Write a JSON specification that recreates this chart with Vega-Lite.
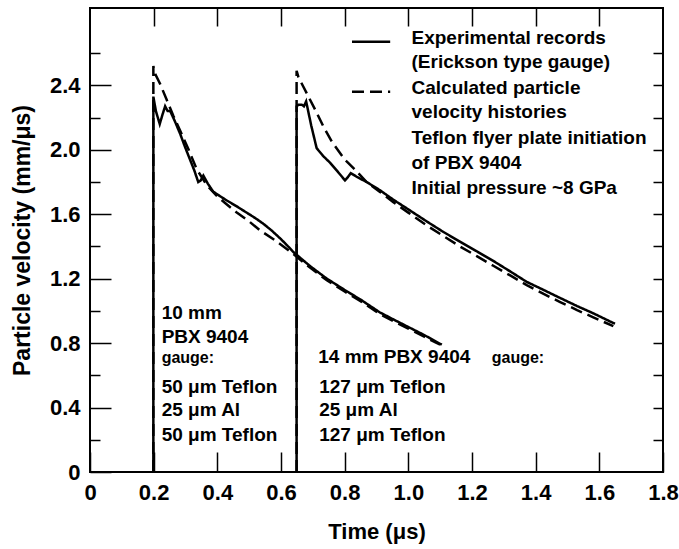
{
  "$schema": "https://vega.github.io/schema/vega-lite/v6.json",
  "width": 573,
  "height": 464,
  "autosize": "none",
  "padding": {"left": 90, "top": 8, "right": 16, "bottom": 77},
  "background": "white",
  "config": {
    "view": {"stroke": "black", "strokeWidth": 2},
    "font": "Liberation Sans",
    "axis": {
      "domain": false, "grid": false, "tickColor": "black", "tickWidth": 1.5, "tickSize": -10,
      "labelColor": "black", "labelFont": "Liberation Sans", "labelFontWeight": "bold", "labelFontSize": 22, "labelOverlap": false, "labelFlush": false,
      "titleColor": "black", "titleFont": "Liberation Sans", "titleFontWeight": "bold"
    }
  },
  "datasets": {
    "curves": [
      {"series": "exp10", "kind": "exp", "t": 0.199, "v": 0},
      {"series": "exp10", "kind": "exp", "t": 0.199, "v": 2.33},
      {"series": "exp10", "kind": "exp", "t": 0.207, "v": 2.24},
      {"series": "exp10", "kind": "exp", "t": 0.219, "v": 2.16},
      {"series": "exp10", "kind": "exp", "t": 0.228, "v": 2.22},
      {"series": "exp10", "kind": "exp", "t": 0.236, "v": 2.27},
      {"series": "exp10", "kind": "exp", "t": 0.244, "v": 2.24},
      {"series": "exp10", "kind": "exp", "t": 0.252, "v": 2.24},
      {"series": "exp10", "kind": "exp", "t": 0.266, "v": 2.18},
      {"series": "exp10", "kind": "exp", "t": 0.283, "v": 2.10},
      {"series": "exp10", "kind": "exp", "t": 0.298, "v": 2.02},
      {"series": "exp10", "kind": "exp", "t": 0.314, "v": 1.94},
      {"series": "exp10", "kind": "exp", "t": 0.328, "v": 1.87},
      {"series": "exp10", "kind": "exp", "t": 0.340, "v": 1.80},
      {"series": "exp10", "kind": "exp", "t": 0.348, "v": 1.81},
      {"series": "exp10", "kind": "exp", "t": 0.356, "v": 1.84},
      {"series": "exp10", "kind": "exp", "t": 0.370, "v": 1.79},
      {"series": "exp10", "kind": "exp", "t": 0.387, "v": 1.74},
      {"series": "exp10", "kind": "exp", "t": 0.41, "v": 1.71},
      {"series": "exp10", "kind": "exp", "t": 0.43, "v": 1.685},
      {"series": "exp10", "kind": "exp", "t": 0.46, "v": 1.65},
      {"series": "exp10", "kind": "exp", "t": 0.5, "v": 1.60},
      {"series": "exp10", "kind": "exp", "t": 0.52, "v": 1.575},
      {"series": "exp10", "kind": "exp", "t": 0.545, "v": 1.54},
      {"series": "exp10", "kind": "exp", "t": 0.57, "v": 1.50},
      {"series": "exp10", "kind": "exp", "t": 0.6, "v": 1.445},
      {"series": "exp10", "kind": "exp", "t": 0.62, "v": 1.405},
      {"series": "exp10", "kind": "exp", "t": 0.639, "v": 1.365},
      {"series": "exp10", "kind": "exp", "t": 0.69, "v": 1.28},
      {"series": "exp10", "kind": "exp", "t": 0.744, "v": 1.20},
      {"series": "exp10", "kind": "exp", "t": 0.8, "v": 1.13},
      {"series": "exp10", "kind": "exp", "t": 0.85, "v": 1.07},
      {"series": "exp10", "kind": "exp", "t": 0.911, "v": 0.99},
      {"series": "exp10", "kind": "exp", "t": 0.96, "v": 0.94},
      {"series": "exp10", "kind": "exp", "t": 1.0, "v": 0.90},
      {"series": "exp10", "kind": "exp", "t": 1.05, "v": 0.85},
      {"series": "exp10", "kind": "exp", "t": 1.105, "v": 0.79},
      {"series": "calc10", "kind": "calc", "t": 0.199, "v": 0},
      {"series": "calc10", "kind": "calc", "t": 0.199, "v": 2.52},
      {"series": "calc10", "kind": "calc", "t": 0.205, "v": 2.47},
      {"series": "calc10", "kind": "calc", "t": 0.22, "v": 2.41},
      {"series": "calc10", "kind": "calc", "t": 0.241, "v": 2.31},
      {"series": "calc10", "kind": "calc", "t": 0.262, "v": 2.21},
      {"series": "calc10", "kind": "calc", "t": 0.283, "v": 2.12},
      {"series": "calc10", "kind": "calc", "t": 0.31, "v": 2.0},
      {"series": "calc10", "kind": "calc", "t": 0.335, "v": 1.88},
      {"series": "calc10", "kind": "calc", "t": 0.367, "v": 1.78},
      {"series": "calc10", "kind": "calc", "t": 0.40, "v": 1.71},
      {"series": "calc10", "kind": "calc", "t": 0.43, "v": 1.66},
      {"series": "calc10", "kind": "calc", "t": 0.461, "v": 1.61},
      {"series": "calc10", "kind": "calc", "t": 0.5, "v": 1.555},
      {"series": "calc10", "kind": "calc", "t": 0.534, "v": 1.50},
      {"series": "calc10", "kind": "calc", "t": 0.58, "v": 1.44},
      {"series": "calc10", "kind": "calc", "t": 0.628, "v": 1.37},
      {"series": "calc10", "kind": "calc", "t": 0.69, "v": 1.27},
      {"series": "calc10", "kind": "calc", "t": 0.744, "v": 1.19},
      {"series": "calc10", "kind": "calc", "t": 0.8, "v": 1.12},
      {"series": "calc10", "kind": "calc", "t": 0.85, "v": 1.06},
      {"series": "calc10", "kind": "calc", "t": 0.911, "v": 0.98},
      {"series": "calc10", "kind": "calc", "t": 0.96, "v": 0.93},
      {"series": "calc10", "kind": "calc", "t": 1.0, "v": 0.89},
      {"series": "calc10", "kind": "calc", "t": 1.05, "v": 0.84},
      {"series": "calc10", "kind": "calc", "t": 1.1, "v": 0.79},
      {"series": "exp14", "kind": "exp", "t": 0.649, "v": 0},
      {"series": "exp14", "kind": "exp", "t": 0.649, "v": 2.27},
      {"series": "exp14", "kind": "exp", "t": 0.655, "v": 2.28},
      {"series": "exp14", "kind": "exp", "t": 0.665, "v": 2.28},
      {"series": "exp14", "kind": "exp", "t": 0.672, "v": 2.27},
      {"series": "exp14", "kind": "exp", "t": 0.679, "v": 2.30},
      {"series": "exp14", "kind": "exp", "t": 0.695, "v": 2.15},
      {"series": "exp14", "kind": "exp", "t": 0.712, "v": 2.01},
      {"series": "exp14", "kind": "exp", "t": 0.733, "v": 1.96},
      {"series": "exp14", "kind": "exp", "t": 0.754, "v": 1.92},
      {"series": "exp14", "kind": "exp", "t": 0.78, "v": 1.86},
      {"series": "exp14", "kind": "exp", "t": 0.801, "v": 1.81},
      {"series": "exp14", "kind": "exp", "t": 0.81, "v": 1.83},
      {"series": "exp14", "kind": "exp", "t": 0.819, "v": 1.855},
      {"series": "exp14", "kind": "exp", "t": 0.84, "v": 1.83},
      {"series": "exp14", "kind": "exp", "t": 0.869, "v": 1.80},
      {"series": "exp14", "kind": "exp", "t": 0.91, "v": 1.75},
      {"series": "exp14", "kind": "exp", "t": 0.953, "v": 1.69},
      {"series": "exp14", "kind": "exp", "t": 1.0, "v": 1.63},
      {"series": "exp14", "kind": "exp", "t": 1.058, "v": 1.555},
      {"series": "exp14", "kind": "exp", "t": 1.11, "v": 1.49},
      {"series": "exp14", "kind": "exp", "t": 1.162, "v": 1.43},
      {"series": "exp14", "kind": "exp", "t": 1.215, "v": 1.37},
      {"series": "exp14", "kind": "exp", "t": 1.267, "v": 1.31},
      {"series": "exp14", "kind": "exp", "t": 1.32, "v": 1.245},
      {"series": "exp14", "kind": "exp", "t": 1.372, "v": 1.18},
      {"series": "exp14", "kind": "exp", "t": 1.425, "v": 1.13},
      {"series": "exp14", "kind": "exp", "t": 1.477, "v": 1.08},
      {"series": "exp14", "kind": "exp", "t": 1.53, "v": 1.03},
      {"series": "exp14", "kind": "exp", "t": 1.581, "v": 0.985},
      {"series": "exp14", "kind": "exp", "t": 1.649, "v": 0.92},
      {"series": "calc14", "kind": "calc", "t": 0.649, "v": 0},
      {"series": "calc14", "kind": "calc", "t": 0.649, "v": 2.49},
      {"series": "calc14", "kind": "calc", "t": 0.655, "v": 2.45},
      {"series": "calc14", "kind": "calc", "t": 0.681, "v": 2.35},
      {"series": "calc14", "kind": "calc", "t": 0.707, "v": 2.25},
      {"series": "calc14", "kind": "calc", "t": 0.733, "v": 2.145},
      {"series": "calc14", "kind": "calc", "t": 0.76, "v": 2.05},
      {"series": "calc14", "kind": "calc", "t": 0.8, "v": 1.94},
      {"series": "calc14", "kind": "calc", "t": 0.833, "v": 1.876},
      {"series": "calc14", "kind": "calc", "t": 0.869, "v": 1.80},
      {"series": "calc14", "kind": "calc", "t": 0.91, "v": 1.74},
      {"series": "calc14", "kind": "calc", "t": 0.953, "v": 1.675},
      {"series": "calc14", "kind": "calc", "t": 1.0, "v": 1.61},
      {"series": "calc14", "kind": "calc", "t": 1.058, "v": 1.53},
      {"series": "calc14", "kind": "calc", "t": 1.11, "v": 1.465},
      {"series": "calc14", "kind": "calc", "t": 1.162, "v": 1.40},
      {"series": "calc14", "kind": "calc", "t": 1.215, "v": 1.34},
      {"series": "calc14", "kind": "calc", "t": 1.267, "v": 1.28},
      {"series": "calc14", "kind": "calc", "t": 1.32, "v": 1.22},
      {"series": "calc14", "kind": "calc", "t": 1.372, "v": 1.16},
      {"series": "calc14", "kind": "calc", "t": 1.425, "v": 1.105},
      {"series": "calc14", "kind": "calc", "t": 1.477, "v": 1.055},
      {"series": "calc14", "kind": "calc", "t": 1.53, "v": 1.005},
      {"series": "calc14", "kind": "calc", "t": 1.581, "v": 0.96},
      {"series": "calc14", "kind": "calc", "t": 1.644, "v": 0.905}
    ],
    "legend": [
      {"kind": "exp", "t1": 0.823, "t2": 0.943, "v": 2.67},
      {"kind": "calc", "t1": 0.823, "t2": 0.943, "v": 2.36}
    ],
    "notes": [
      {"label": "Experimental records", "t": 1.01, "v": 2.696, "role": "main"},
      {"label": "(Erickson type gauge)", "t": 1.01, "v": 2.547, "role": "main"},
      {"label": "Calculated particle", "t": 1.01, "v": 2.385, "role": "main"},
      {"label": "velocity histories", "t": 1.01, "v": 2.236, "role": "main"},
      {"label": "Teflon flyer plate initiation", "t": 1.01, "v": 2.075, "role": "main"},
      {"label": "of PBX 9404", "t": 1.01, "v": 1.919, "role": "main"},
      {"label": "Initial pressure ~8 GPa", "t": 1.01, "v": 1.764, "role": "main"},
      {"label": "10 mm", "t": 0.225, "v": 0.988, "role": "main"},
      {"label": "PBX 9404", "t": 0.225, "v": 0.84, "role": "main"},
      {"label": "gauge:", "t": 0.225, "v": 0.708, "role": "small"},
      {"label": "50 μm Teflon", "t": 0.225, "v": 0.53, "role": "main"},
      {"label": "25 μm Al", "t": 0.225, "v": 0.385, "role": "main"},
      {"label": "50 μm Teflon", "t": 0.225, "v": 0.23, "role": "main"},
      {"label": "14 mm PBX 9404", "t": 0.717, "v": 0.714, "role": "main"},
      {"label": "gauge:", "t": 1.262, "v": 0.708, "role": "small"},
      {"label": "127 μm Teflon", "t": 0.72, "v": 0.53, "role": "main"},
      {"label": "25 μm Al", "t": 0.72, "v": 0.385, "role": "main"},
      {"label": "127 μm Teflon", "t": 0.72, "v": 0.23, "role": "main"}
    ]
  },
  "layer": [
    {
      "data": {"name": "curves"},
      "mark": {"type": "line", "color": "black", "strokeWidth": 2.5, "clip": true},
      "encoding": {
        "x": {"field": "t", "type": "quantitative", "scale": {"domain": [0, 1.8], "nice": false, "zero": false},
          "axis": {"orient": "bottom", "values": [0, 0.2, 0.4, 0.6, 0.8, 1.0, 1.2, 1.4, 1.6, 1.8],
            "labelExpr": "datum.value == 0 ? '0' : format(datum.value, '.1f')", "tickSize": -20, "labelPadding": 30,
            "title": "Time (μs)", "titleFontSize": 22, "titlePadding": 18}},
        "y": {"field": "v", "type": "quantitative", "scale": {"domain": [0, 2.88], "nice": false, "zero": false},
          "axis": {"orient": "left", "values": [0, 0.2, 0.4, 0.6, 0.8, 1.0, 1.2, 1.4, 1.6, 1.8, 2.0, 2.2, 2.4, 2.6],
            "labelExpr": "round(datum.value * 10) % 4 == 0 ? (datum.value == 0 ? '0' : format(datum.value, '.1f')) : ''",
            "tickSize": {"condition": {"test": "round(datum.value * 10) % 4 == 0", "value": -21}, "value": -10},
            "labelPadding": 31, "title": "Particle velocity (mm/μs)", "titleFontSize": 23, "titlePadding": 15}},
        "detail": {"field": "series"},
        "strokeDash": {"field": "kind", "type": "nominal", "scale": {"domain": ["exp", "calc"], "range": [[1, 0], [12, 6]]}, "legend": null},
        "order": {"value": null}
      }
    },
    {
      "data": {"name": "legend"},
      "mark": {"type": "rule", "color": "black", "strokeWidth": 2.5},
      "encoding": {
        "x": {"field": "t1", "type": "quantitative",
          "axis": {"orient": "top", "values": [0.2, 0.4, 0.6, 0.8, 1.0, 1.2, 1.4, 1.6], "labels": false, "tickSize": -18, "title": null}},
        "x2": {"field": "t2"},
        "y": {"field": "v", "type": "quantitative",
          "axis": {"orient": "right", "values": [0.2, 0.4, 0.6, 0.8, 1.0, 1.2, 1.4, 1.6, 1.8, 2.0, 2.2, 2.4, 2.6], "labels": false, "title": null}},
        "strokeDash": {"field": "kind", "type": "nominal", "scale": {"domain": ["exp", "calc"], "range": [[1, 0], [12, 6]]}, "legend": null}
      }
    },
    {
      "data": {"name": "notes"},
      "transform": [{"filter": "datum.role == 'main'"}],
      "mark": {"type": "text", "align": "left", "baseline": "middle", "fontSize": 19, "fontWeight": "bold", "font": "Liberation Sans", "color": "black"},
      "encoding": {
        "x": {"field": "t", "type": "quantitative", "axis": null},
        "y": {"field": "v", "type": "quantitative", "axis": null},
        "text": {"field": "label"}
      }
    },
    {
      "data": {"name": "notes"},
      "transform": [{"filter": "datum.role == 'small'"}],
      "mark": {"type": "text", "align": "left", "baseline": "middle", "fontSize": 16, "fontWeight": "bold", "font": "Liberation Sans", "color": "black"},
      "encoding": {
        "x": {"field": "t", "type": "quantitative", "axis": null},
        "y": {"field": "v", "type": "quantitative", "axis": null},
        "text": {"field": "label"}
      }
    }
  ]
}
